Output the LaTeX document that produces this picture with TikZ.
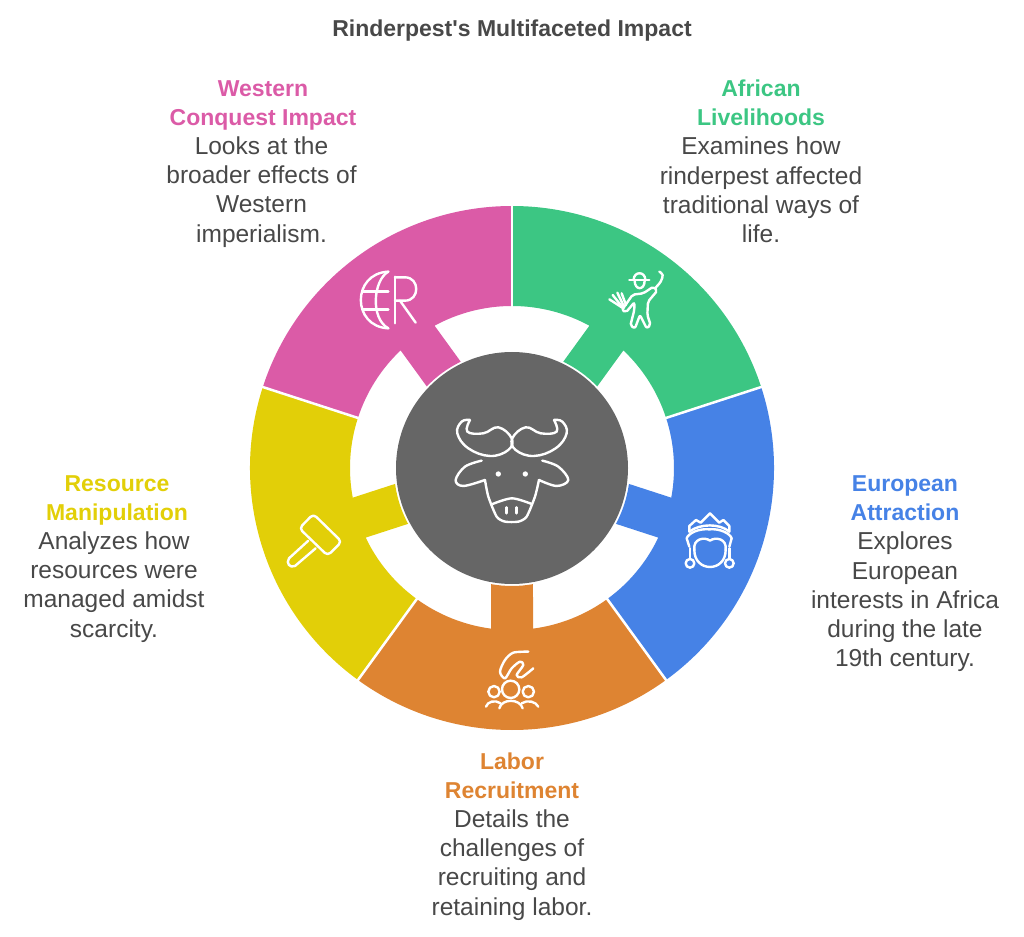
\documentclass[tikz,border=0pt]{standalone}
\usepackage{fontspec}
\setmainfont{Liberation Sans}
\definecolor{textgrey}{RGB}{72, 72, 72}
\definecolor{hubgrey}{RGB}{102, 102, 102}
\definecolor{africangreen}{RGB}{60, 198, 131}
\definecolor{europeblue}{RGB}{70, 130, 230}
\definecolor{labororange}{RGB}{222, 132, 50}
\definecolor{resourceyellow}{RGB}{226, 207, 8}
\definecolor{westernpink}{RGB}{219, 91, 167}
\usetikzlibrary{arrows.meta,positioning}
\newcommand{\ringpart}[2]{\fill[#1,rotate=#2] (36:262) arc[start angle=36,end angle=-36,radius=262] -- (-36:162) arc[start angle=-36,end angle=-7.45,radius=162] -- (-10.25:118) arc[start angle=-10.25,end angle=10.25,radius=118] -- (7.45:162) arc[start angle=7.45,end angle=36,radius=162] -- cycle;}
\tikzset{
  headtext/.style={align=center,inner sep=0pt,font=\fontsize{23}{29.3}\selectfont\bfseries},
  bodytext/.style={align=center,inner sep=0pt,text=textgrey,font=\fontsize{24.5}{29.3}\selectfont},
  sepline/.style={white,line width=2.5pt},
  iconline/.style={white,line width=2.4pt,line cap=round,line join=round},
  zoomed/.style={x=0.3333pt,y=-0.3333pt}
}
\begin{document}
\begin{tikzpicture}[x=1pt,y=1pt]
  \useasboundingbox (-512,-468) rectangle (512,468);

  \node[headtext,text=textgrey] (title) at (0,437) {Rinderpest\textquotesingle s Multifaceted Impact};

  % ring
  \ringpart{africangreen}{54}
  \ringpart{europeblue}{-18}
  \ringpart{labororange}{-90}
  \ringpart{resourceyellow}{-162}
  \ringpart{westernpink}{126}
  \draw[sepline] (90:150) -- (90:264);
  \draw[sepline] (18:150) -- (18:264);
  \draw[sepline] (-54:150) -- (-54:264);
  \draw[sepline] (-126:150) -- (-126:264);
  \draw[sepline] (162:150) -- (162:264);
  \fill[hubgrey] (0,0) circle (116);

  % texts
  \node[headtext,text=westernpink] (westernhead) at (-249,362.5) {Western\\Conquest Impact};
  \node[bodytext] (westernbody) at (-250.5,276) {Looks at the\\broader effects of\\Western\\imperialism.};
  \node[headtext,text=africangreen] (africanhead) at (249,365) {African\\Livelihoods};
  \node[bodytext] (africanbody) at (249,278) {Examines how\\rinderpest affected\\traditional ways of\\life.};
  \node[headtext,text=europeblue] (europehead) at (393,-30) {European\\Attraction};
  \node[bodytext] (europebody) at (393,-134) {Explores\\European\\interests in Africa\\during the late\\19th century.};
  \node[headtext,text=resourceyellow] (resourcehead) at (-395,-32.5) {Resource\\Manipulation};
  \node[bodytext] (resourcebody) at (-398,-119) {Analyzes how\\resources were\\managed amidst\\scarcity.};
  \node[headtext,text=labororange] (laborhead) at (0,-308) {Labor\\Recruitment};
  \node[bodytext] (laborbody) at (0,-397) {Details the\\challenges of\\recruiting and\\retaining labor.};

  % bull
  \begin{scope}[shift={(-172,218)},zoomed]
    \draw[iconline] plot[smooth,tension=0.7] coordinates {(390,510) (382,545) (430,550) (475,532) (515,565) (505,600) (450,618) (385,595) (352,550) (365,515) (390,510)};
    \draw[iconline] plot[smooth,tension=0.7] coordinates {(642,510) (650,545) (602,550) (557,532) (517,565) (527,600) (582,618) (647,595) (680,550) (667,515) (642,510)};
    \draw[iconline] plot[smooth,tension=0.6] coordinates {(425,632) (375,650) (347,690) (370,708) (435,690)};
    \draw[iconline] plot[smooth,tension=0.6] coordinates {(607,632) (655,650) (685,690) (650,708) (597,690)};
    \draw[iconline] plot[smooth,tension=0.4] coordinates {(435,690) (445,740) (470,800) (495,815) (535,815) (560,800) (585,740) (597,690)};
    \draw[iconline] plot[smooth] coordinates {(458,762) (516,745) (575,762)};
    \draw[iconline] (500,772) -- (500,790);
    \draw[iconline] (530,772) -- (530,790);
    \fill[white] (475,672) circle (8);
    \fill[white] (556,672) circle (8);
  \end{scope}

  % farmer
  \begin{scope}[shift={(88,208)},zoomed]
    \draw[iconline] (88,60) -- (148,60);
    \draw[iconline] (101,60) .. controls (101,33) and (136,33) .. (136,60);
    \draw[iconline] (104,62) .. controls (104,92) and (134,92) .. (134,62);
    \draw[iconline] plot[smooth,tension=0.6] coordinates {(165,85) (182,65) (188,45) (178,35)};
    \draw[iconline,rounded corners=2pt] (66,150) -- (98,104) -- (130,100) -- (160,80) -- (172,92) -- (144,125) -- (142,165) -- (152,195) -- (140,205) -- (120,165) -- (105,205) -- (91,197) -- (103,150) -- (103,127) -- (78,157) -- cycle;
    \draw[iconline] (70,145) -- (28,118);
    \draw[iconline] (70,145) -- (38,105);
    \draw[iconline] (72,140) -- (52,98);
    \draw[iconline] (78,135) -- (65,100);
  \end{scope}

  % queen
  \begin{scope}[shift={(158,-32)},zoomed]
    \draw[iconline] (58,95) -- (58,78) -- (78,60) -- (92,68) -- (120,40) -- (148,68) -- (160,60) -- (178,78) -- (178,95);
    \draw[iconline] (58,95) .. controls (90,70) and (150,70) .. (178,95);
    \draw[iconline] (50,115) .. controls (55,100) and (85,85) .. (118,88) .. controls (150,85) and (180,100) .. (185,115);
    \draw[iconline] (50,115) -- (58,140);
    \draw[iconline] (185,115) -- (178,140);
    \draw[iconline] (60,145) -- (60,176);
    \draw[iconline] (178,145) -- (178,176);
    \draw[iconline] (60,190) circle (13);
    \draw[iconline] (178,190) circle (13);
    \draw[iconline] (73,150) .. controls (68,115) and (105,110) .. (120,122) .. controls (135,110) and (172,115) .. (167,150);
    \draw[iconline] (73,150) .. controls (73,218) and (167,218) .. (167,150);
  \end{scope}

  % labor
  \begin{scope}[shift={(-42,-172)},zoomed]
    \draw[iconline] plot[smooth,tension=0.5] coordinates {(175,35) (130,38) (105,60) (90,95) (105,115) (125,85) (150,65) (160,75) (140,105) (155,112) (190,85)};
    \draw[iconline] (122,148) circle (26);
    \draw[iconline] (72,155) circle (17);
    \draw[iconline] (175,155) circle (17);
    \draw[iconline] (88,205) .. controls (95,175) and (150,175) .. (158,205);
    \draw[iconline] (48,200) .. controls (52,185) and (75,178) .. (92,190);
    \draw[iconline] (155,190) .. controls (172,178) and (198,185) .. (205,200);
  \end{scope}

  % hammer
  \begin{scope}[shift={(-237,-32)},zoomed]
    \draw[iconline,rounded corners=4pt] (115,42) -- (200,125) -- (158,167) -- (73,85) -- cycle;
    \draw[iconline] (100,122) -- (42,175) .. controls (32,190) and (45,205) .. (60,198) -- (122,145);
  \end{scope}

  % globe
  \begin{scope}[shift={(-167,208)},zoomed]
    \draw[iconline] (130,35) .. controls (20,40) and (20,200) .. (130,205);
    \draw[iconline] (130,35) .. controls (85,60) and (75,175) .. (130,205);
    \draw[iconline] (55,95) -- (130,95);
    \draw[iconline] (55,148) -- (130,148);
    \draw[iconline] (150,50) -- (150,190);
    \draw[iconline] (150,52) -- (180,52) .. controls (225,52) and (225,122) .. (180,122) -- (150,122);
    \draw[iconline] (165,122) -- (212,188);
  \end{scope}
\end{tikzpicture}
\end{document}
